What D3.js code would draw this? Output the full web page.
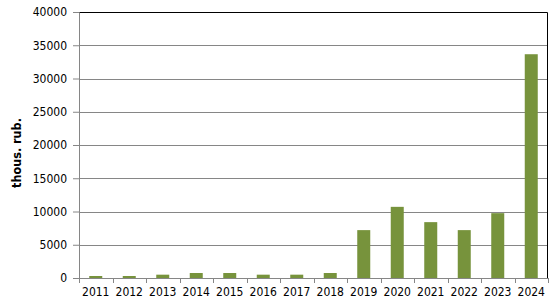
<!DOCTYPE html>
<html lang="en">
<head>
  <meta charset="UTF-8">
  <style type="text/css">
    body {margin:0; background:#fff;}
    .axis text {font: 12px "DejaVu Sans Condensed", "DejaVu Sans", sans-serif; fill:#000;}
    .label {font: bold 12.5px "DejaVu Sans Condensed", "DejaVu Sans", sans-serif;}
  </style>
  <title>Chart</title>
</head>
<body>
  <svg id="chart" width="555" height="307"></svg>
  <script src="https://d3js.org/d3.v7.min.js"></script>
  <script type="text/javascript">
    var years = ["2011","2012","2013","2014","2015","2016","2017","2018","2019","2020","2021","2022","2023","2024"];
    var values = [300, 300, 500, 750, 750, 500, 500, 750, 7200, 10700, 8400, 7200, 9750, 33650];
    var yTicks = [0, 5000, 10000, 15000, 20000, 25000, 30000, 35000, 40000];

    var svg = d3.select("#chart");
    var margin = {top: 12, right: 7, bottom: 29, left: 79},
        width = +svg.attr("width") - margin.left - margin.right,
        height = +svg.attr("height") - margin.top - margin.bottom;

    var x = d3.scaleBand().range([0, width]).domain(years).paddingInner(0.6).paddingOuter(0.3),
        xc = d3.scaleBand().range([0, width]).domain(years),
        y = d3.scaleLinear().range([height, 0]).domain([0, 40000]);

    var g = svg.append("g")
      .attr("transform", "translate(" + margin.left + "," + margin.top + ")");

    // gridlines
    g.selectAll(".grid")
      .data(yTicks.slice(1, -1))
      .enter().append("line")
      .attr("x1", 0).attr("x2", width)
      .attr("y1", d => Math.round(y(d)) + 0.5).attr("y2", d => Math.round(y(d)) + 0.5)
      .attr("stroke", "#868686");

    // plot border top/right
    g.append("path")
      .attr("d", "M0,0.5H" + (width - 0.5) + "V" + height)
      .attr("fill", "none").attr("stroke", "#000");

    // bars
    g.selectAll(".bar")
      .data(values)
      .enter().append("rect")
      .attr("class", "bar")
      .attr("x", (d, i) => xc(years[i]) + (xc.bandwidth() - 13) / 2)
      .attr("y", d => y(d))
      .attr("width", 13)
      .attr("height", d => height - y(d))
      .style("fill", "#77933c");

    // y axis
    var ya = g.append("g")
      .attr("class", "axis")
      .call(d3.axisLeft(y).tickValues(yTicks).tickSize(6).tickPadding(6).tickFormat(d3.format("d")));
    ya.select(".domain").attr("stroke", "#868686");
    ya.selectAll(".tick line").attr("stroke", "#868686");

    // x axis
    var xa = g.append("g")
      .attr("class", "axis")
      .attr("transform", "translate(0," + height + ")")
      .call(d3.axisBottom(xc).tickSize(0).tickPadding(9));
    xa.select(".domain").attr("stroke", "#868686");
    xa.selectAll(".sep")
      .data(years.concat(["end"]))
      .enter().append("line")
      .attr("x1", (d, i) => Math.round(i * xc.step()) + 0.5)
      .attr("x2", (d, i) => Math.round(i * xc.step()) + 0.5)
      .attr("y1", 0).attr("y2", 5)
      .attr("stroke", "#868686");

    // y label
    svg.append("text")
      .attr("class", "label")
      .attr("transform", "translate(21,153) rotate(-90)")
      .style("text-anchor", "middle")
      .text("thous. rub.");
  </script>
</body>
</html>
